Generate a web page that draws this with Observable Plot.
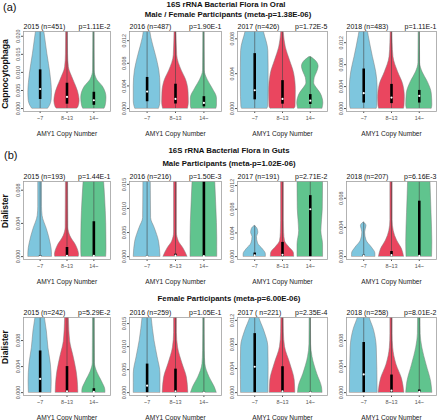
<!DOCTYPE html>
<html><head><meta charset="utf-8">
<script src="https://cdn.jsdelivr.net/npm/d3@7"></script>
<script src="https://cdn.jsdelivr.net/npm/@observablehq/plot@0.6"></script>
<style>
body{margin:0;background:#fff;font-family:"Liberation Sans",Arial,sans-serif;}
#wrap{position:relative;width:440px;height:420px;overflow:hidden;background:#fff;}
.t{position:absolute;white-space:nowrap;line-height:1;color:#111;}
.b{font-weight:bold;}
.c{transform:translateX(-50%);}
.rot{transform:translate(-50%,-50%) rotate(-90deg);}
#wrap svg g[aria-label="x-axis label"]{font-size:6.6px;fill:#222;}
#wrap svg g[aria-label="x-axis label"] text{fill:#222;}
</style></head><body><div id="wrap">
<div class="t" style="left:3px;top:2px;font-size:11px">(a)</div>
<div class="t b c" style="left:226px;top:1px;font-size:7.8px">16S rRNA Bacterial Flora in Oral</div>
<div class="t b c" style="left:228px;top:11px;font-size:7.8px">Male / Female Participants (meta-p=1.38E-06)</div>
<div class="t b rot" style="left:5px;top:74px;font-size:8.6px">Capnocytophaga</div>
<div class="t" style="left:4px;top:150px;font-size:11px">(b)</div>
<div class="t b c" style="left:229px;top:147px;font-size:7.8px">16S rRNA Bacterial Flora in Guts</div>
<div class="t b c" style="left:229px;top:160px;font-size:7.8px">Male Participants (meta-p=1.02E-06)</div>
<div class="t b rot" style="left:5px;top:211px;font-size:8.6px">Dialister</div>
<div class="t b c" style="left:229px;top:295px;font-size:7.8px">Female Participants (meta-p=6.00E-06)</div>
<div class="t b rot" style="left:5px;top:347px;font-size:8.6px">Dialister</div>
</div>
<script>
const groups = ["~7", "8~13", "14~"];
const groupColors = ["#7ec6de", "#ea465f", "#60c48e"];
const panelTitles = ["2015 (n=451)", "2016 (n=487)", "2017 (n=426)", "2018 (n=483)",
  "2015 (n=193)", "2016 (n=216)", "2017 (n=191)", "2018 (n=207)",
  "2015 (n=242)", "2016 (n=259)", "2017 ( n=221)", "2018 (n=258)"];
const panelP = ["p=1.11E-2", "p=1.90E-1", "p=1.72E-5", "p=1.11E-1",
  "p=1.44E-1", "p=1.50E-3", "p=2.71E-2", "p=6.16E-3",
  "p=5.29E-2", "p=1.05E-1", "p=2.35E-4", "p=8.01E-2"];
const panelYMax = [0.0205, 0.0131, 0.0085, 0.0135, 0.0087, 0.015, 0.0122, 0.0099, 0.0111, 0.0157, 0.012, 0.0111];
const panelTicks = [
  [0, 0.005, 0.01, 0.015, 0.02], [0, 0.004, 0.008, 0.012], [0, 0.004, 0.008], [0, 0.004, 0.008, 0.012],
  [0, 0.004, 0.008], [0, 0.005, 0.01, 0.015], [0, 0.004, 0.008, 0.012], [0, 0.004, 0.008],
  [0, 0.004, 0.008], [0, 0.005, 0.01, 0.015], [0, 0.004, 0.008, 0.012], [0, 0.004, 0.008]];

// violin outlines: [group, value, half-width]
const oral2015 = [
  [0,0,0.3],[0,0.0007,0.36],[0,0.0025,0.43],[0,0.0043,0.44],[0,0.007,0.42],[0,0.0097,0.38],[0,0.015,0.27],[0,0.0205,0.17],[0,0.024,0.1],
  [1,0,0.38],[1,0.0003,0.42],[1,0.002,0.47],[1,0.0047,0.41],[1,0.0079,0.24],[1,0.0114,0.07],[1,0.015,0.04],[1,0.024,0.03],
  [2,0,0.4],[2,0.0008,0.44],[2,0.003,0.47],[2,0.006,0.34],[2,0.008,0.12],[2,0.0105,0.03],[2,0.024,0.02]];
const oral2016 = [
  [0,0,0.42],[0,0.0003,0.44],[0,0.0013,0.47],[0,0.004,0.47],[0,0.0067,0.43],[0,0.0094,0.31],[0,0.0125,0.15],[0,0.015,0.08],
  [1,0,0.44],[1,0.001,0.47],[1,0.0029,0.46],[1,0.0051,0.37],[1,0.0067,0.22],[1,0.0094,0.06],[1,0.015,0.03],
  [2,0,0.44],[2,0.0005,0.46],[2,0.0018,0.46],[2,0.0035,0.31],[2,0.0051,0.13],[2,0.0067,0.03],[2,0.015,0.02]];
const oral2017 = [
  [0,0,0.46],[0,0.0002,0.48],[0,0.0024,0.5],[0,0.0047,0.5],[0,0.0066,0.49],[0,0.0088,0.33],[0,0.01,0.25],
  [1,0,0.44],[1,0.0002,0.47],[1,0.0021,0.48],[1,0.004,0.42],[1,0.0055,0.27],[1,0.007,0.12],[1,0.0086,0.05],[1,0.01,0.03],
  [2,0,0.44],[2,0.0006,0.47],[2,0.0012,0.44],[2,0.0018,0.36],[2,0.0024,0.22],[2,0.0029,0.14],[2,0.0035,0.16],[2,0.0042,0.25],[2,0.0048,0.3],[2,0.0054,0.22],[2,0.0059,0.03]];
const oral2018 = [
  [0,0,0.47],[0,0.0005,0.49],[0,0.0038,0.5],[0,0.0066,0.45],[0,0.0094,0.33],[0,0.0132,0.18],[0,0.015,0.12],
  [1,0,0.45],[1,0.0006,0.47],[1,0.0021,0.48],[1,0.0044,0.42],[1,0.0066,0.24],[1,0.0094,0.07],[1,0.012,0.04],[1,0.015,0.03],
  [2,0,0.45],[2,0.0006,0.47],[2,0.0027,0.45],[2,0.0049,0.3],[2,0.0066,0.12],[2,0.0083,0.03],[2,0.015,0.02]];
const maleGut2015 = [
  [0,0,0.44],[0,0.0004,0.44],[0,0.0016,0.39],[0,0.0033,0.25],[0,0.0049,0.09],[0,0.006,0.07],[0,0.0095,0.07],
  [1,0,0.44],[1,0.0002,0.45],[1,0.0012,0.36],[1,0.0025,0.12],[1,0.0035,0.05],[1,0.0095,0.04],
  [2,0,0.46],[2,0.001,0.47],[2,0.004,0.46],[2,0.007,0.42],[2,0.0091,0.38],[2,0.0095,0.37]];
const maleGut2016 = [
  [0,0,0.47],[0,0.0031,0.42],[0,0.0059,0.27],[0,0.008,0.14],[0,0.0155,0.13],[0,0.017,0.13],
  [1,0,0.42],[1,0.0017,0.28],[1,0.0031,0.12],[1,0.005,0.05],[1,0.017,0.05],
  [2,0,0.47],[2,0.004,0.47],[2,0.01,0.44],[2,0.0155,0.4],[2,0.017,0.39]];
const maleGut2017 = [
  [0,0,0.4],[0,0.0004,0.4],[0,0.0012,0.3],[0,0.0022,0.12],[0,0.0033,0.08],[0,0.004,0.13],[0,0.0047,0.1],[0,0.0052,0],
  [1,0,0.42],[1,0.0006,0.41],[1,0.0017,0.22],[1,0.0026,0.09],[1,0.004,0.06],[1,0.006,0.05],[1,0.014,0.05],
  [2,0,0.46],[2,0.002,0.46],[2,0.0043,0.4],[2,0.008,0.45],[2,0.0127,0.46],[2,0.014,0.46]];
const maleGut2018 = [
  [0,0,0.42],[0,0.0004,0.42],[0,0.0012,0.3],[0,0.0022,0.1],[0,0.0033,0.05],[0,0.0042,0.1],[0,0.0047,0],
  [1,0,0.45],[1,0.001,0.38],[1,0.0022,0.2],[1,0.0035,0.08],[1,0.005,0.04],[1,0.012,0.04],
  [2,0,0.46],[2,0.002,0.47],[2,0.006,0.44],[2,0.0106,0.4],[2,0.012,0.39]];
const femaleGut2015 = [
  [0,0,0.42],[0,0.0017,0.43],[0,0.0043,0.4],[0,0.0068,0.31],[0,0.0094,0.25],[0,0.0114,0.18],[0,0.013,0.14],
  [1,0,0.42],[1,0.0012,0.41],[1,0.0032,0.36],[1,0.0058,0.23],[1,0.0078,0.12],[1,0.0114,0.07],[1,0.013,0.06],
  [2,0,0.43],[2,0.0003,0.43],[2,0.0017,0.3],[2,0.0032,0.12],[2,0.0045,0.04],[2,0.013,0.03]];
const femaleGut2016 = [
  [0,0,0.47],[0,0.0041,0.47],[0,0.0077,0.37],[0,0.0113,0.26],[0,0.0163,0.16],[0,0.018,0.13],
  [1,0,0.45],[1,0.0033,0.4],[1,0.0062,0.25],[1,0.0098,0.09],[1,0.013,0.05],[1,0.018,0.05],
  [2,0,0.45],[2,0.0012,0.38],[2,0.0033,0.2],[2,0.0062,0.05],[2,0.009,0.03],[2,0.018,0.02]];
const femaleGut2017 = [
  [0,0,0.49],[0,0.0042,0.5],[0,0.0076,0.49],[0,0.0103,0.34],[0,0.0125,0.16],[0,0.014,0.1],
  [1,0,0.46],[1,0.002,0.44],[1,0.0048,0.28],[1,0.0076,0.09],[1,0.01,0.05],[1,0.014,0.04],
  [2,0,0.44],[2,0.0009,0.42],[2,0.0031,0.25],[2,0.0059,0.08],[2,0.008,0.03],[2,0.014,0.02]];
const femaleGut2018 = [
  [0,0,0.5],[0,0.0069,0.47],[0,0.0096,0.37],[0,0.0117,0.2],[0,0.013,0.15],
  [1,0,0.46],[1,0.0021,0.38],[1,0.0043,0.18],[1,0.0069,0.06],[1,0.009,0.04],[1,0.013,0.04],
  [2,0,0.47],[2,0.0016,0.43],[2,0.0043,0.26],[2,0.0069,0.11],[2,0.009,0.05],[2,0.013,0.04]];

// box stats per group: [q1, median, q3, upper whisker]
const oral2015Box = [[0.0025,0.0054,0.0107,0.024],[0.0012,0.0032,0.007,0.024],[0.0009,0.0023,0.0045,0.024]];
const oral2016Box = [[0.0012,0.003,0.0055,0.015],[0.0008,0.0017,0.0043,0.015],[0.0003,0.001,0.0021,0.015]];
const oral2017Box = [[0.001,0.0021,0.0063,0.01],[0.0005,0.0011,0.0032,0.01],[0.00046,0.0009,0.0016,0.0059]];
const oral2018Box = [[0.001,0.0028,0.0072,0.015],[0.0009,0.002,0.0044,0.015],[0.001,0.0023,0.0033,0.015]];
const maleGut2015Box = [[0,0,0.0001,0.0095],[0,0.0001,0.0011,0.0095],[0,0.0001,0.0042,0.0095]];
const maleGut2016Box = [[0,0,0.0001,0.017],[0,0.0002,0.0005,0.017],[0,0.0001,0.017,0.017]];
const maleGut2017Box = [[0,0.0002,0.0006,0.0052],[0,0.0003,0.0024,0.014],[0,0.008,0.0103,0.014]];
const maleGut2018Box = [[0,0.0001,0.0002,0.0047],[0,0.0002,0.0007,0.012],[0,0.0001,0.0076,0.012]];
const femaleGut2015Box = [[0,0.0021,0.0064,0.013],[0,0.0002,0.004,0.013],[0,0.0001,0.0006,0.013]];
const femaleGut2016Box = [[0,0.0015,0.0062,0.018],[0,0.0003,0.0051,0.018],[0,0,0.0001,0.018]];
const femaleGut2017Box = [[0,0.0043,0.0098,0.014],[0,0.0002,0.0043,0.014],[0,0,0.0001,0.014]];
const femaleGut2018Box = [[0,0.0028,0.0077,0.013],[0,0.0003,0.0027,0.013],[0,0.0001,0.0004,0.013]];

const profiles = [oral2015, oral2016, oral2017, oral2018, maleGut2015, maleGut2016, maleGut2017, maleGut2018, femaleGut2015, femaleGut2016, femaleGut2017, femaleGut2018];
const boxes = [oral2015Box, oral2016Box, oral2017Box, oral2018Box, maleGut2015Box, maleGut2016Box, maleGut2017Box, maleGut2018Box, femaleGut2015Box, femaleGut2016Box, femaleGut2017Box, femaleGut2018Box];

// layout
const colLeft = [23, 129, 237, 346], colRight = [110, 221, 327, 436];
const rowTop = [31, 181, 317], rowBottom = [111, 259, 395];
const ML = 14, MR = 3, MT = 10, MB = 24;
const wrap = document.getElementById("wrap");

for (let i = 0; i < 12; i++) {
  const r = Math.floor(i / 4), c = i % 4;
  const bw = colRight[c] - colLeft[c], bh = rowBottom[r] - rowTop[r];
  const m = panelYMax[i];
  const rows = profiles[i].map(([g, v, w]) => ({g, v, x1: g + 1 - w, x2: g + 1 + w}))
    .sort((a, b) => a.g - b.g || a.v - b.v);
  const stats = boxes[i].map(([q1, med, q3, hi], g) => ({g, x: g + 1, q1, med, q3, hi}));
  const svg = Plot.plot({
    width: bw + ML + MR, height: bh + MT + MB,
    marginLeft: ML, marginRight: MR, marginTop: MT, marginBottom: MB,
    style: {fontFamily: "Liberation Sans, Arial, sans-serif", fontSize: "5.4px", color: "#555", background: "transparent", overflow: "visible"},
    x: {domain: [0.38, 3.62], ticks: [1, 2, 3], tickFormat: d => groups[d - 1], tickSize: 2, tickPadding: 3,
        label: "AMY1 Copy Number", labelAnchor: "center", labelArrow: "none", labelOffset: 24},
    y: {domain: [-0.04 * m, 1.04 * m], ticks: panelTicks[i], tickFormat: d3.format(".3f"), tickRotate: -90,
        tickSize: 2, tickPadding: 2, label: null},
    color: {type: "ordinal", domain: [0, 1, 2], range: groupColors},
    marks: [
      Plot.areaX(rows, {y: "v", x1: "x1", x2: "x2", z: "g", fill: "g", stroke: "#7a7a7a", strokeWidth: 0.5, curve: "monotone-y", clip: true}),
      Plot.ruleX(stats, {x: "x", y1: 0, y2: "hi", stroke: "#444", strokeWidth: 0.6, clip: true}),
      Plot.ruleX(stats, {x: "x", y1: "q1", y2: "q3", stroke: "#000", strokeWidth: 2.6, clip: true}),
      Plot.dot(stats, {x: "x", y: "med", r: 1.1, fill: "#fff", stroke: null, clip: true}),
      Plot.frame({stroke: "#a0a0a0", strokeWidth: 0.8}),
      Plot.text([panelTitles[i]], {text: d => d, frameAnchor: "top-left", dy: -5, textAnchor: "start", lineAnchor: "middle", fontSize: 7, fill: "#111"}),
      Plot.text([panelP[i]], {text: d => d, frameAnchor: "top-right", dy: -5, textAnchor: "end", lineAnchor: "middle", fontSize: 7, fill: "#111"})
    ]
  });
  svg.style.position = "absolute";
  svg.style.left = (colLeft[c] - ML) + "px";
  svg.style.top = (rowTop[r] - MT) + "px";
  wrap.appendChild(svg);
}
</script></body></html>
